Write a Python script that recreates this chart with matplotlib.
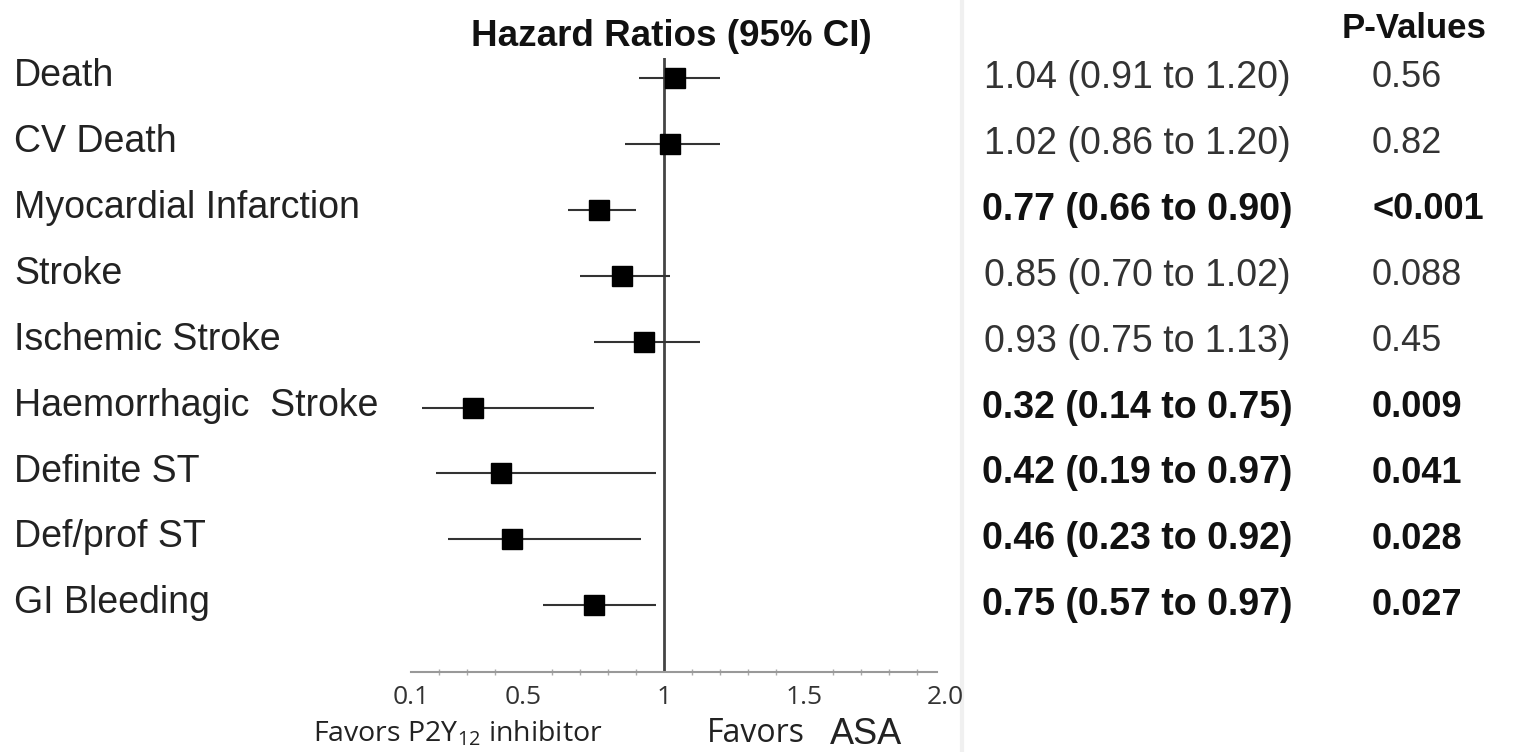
import numpy as np
import matplotlib
matplotlib.use("Agg")
import matplotlib.pyplot as plt
from matplotlib.transforms import blended_transform_factory

plt.rcParams['font.family'] = ['Liberation Sans', 'DejaVu Sans']
plt.rcParams['mathtext.fontset'] = 'custom'
plt.rcParams['mathtext.rm'] = 'Open Sans'
plt.rcParams['mathtext.default'] = 'rm'

# data
outcomes = ["Death", "CV Death", "Myocardial Infarction", "Stroke", "Ischemic Stroke",
            "Haemorrhagic  Stroke", "Definite ST", "Def/prof ST", "GI Bleeding"]
hr = [1.04, 1.02, 0.77, 0.85, 0.93, 0.32, 0.42, 0.46, 0.75]
lo = [0.91, 0.86, 0.66, 0.70, 0.75, 0.14, 0.19, 0.23, 0.57]
hi = [1.20, 1.20, 0.90, 1.02, 1.13, 0.75, 0.97, 0.92, 0.97]
pvals = ["0.56", "0.82", "<0.001", "0.088", "0.45", "0.009", "0.041", "0.028", "0.027"]
significant = [False, False, True, False, False, True, True, True, True]
tick_vals = [0.1, 0.5, 1, 1.5, 2.0]
tick_labels = ["0.1", "0.5", "1", "1.5", "2.0"]

W, H = 1521, 752
fig = plt.figure(figsize=(W / 100, H / 100), dpi=100)

# faint separator between plot and table (behind everything)
fig.add_artist(plt.Line2D([962 / W, 962 / W], [0, 1], transform=fig.transFigure,
                          color="#f0f0f0", lw=3, zorder=-1))

# forest plot axes (pixel layout)
ax = fig.add_axes([411 / W, 1 - 672 / H, 534 / W, 614 / H])
ax.patch.set_alpha(0)
y = np.arange(len(outcomes))

ax.axvline(1, color="#444444", lw=2, zorder=1)
ax.hlines(y, lo, hi, color="#333333", lw=1.5, zorder=2)
ax.plot(hr, y, "s", color="black", ms=14.5, zorder=3)

ax.set_xlim(0.1, 2.0)
ax.set_ylim(len(outcomes) - 1 + 1.01, -0.30)
for s in ["top", "left", "right"]:
    ax.spines[s].set_visible(False)
ax.spines["bottom"].set_color("#999999")
ax.spines["bottom"].set_linewidth(1.5)
ax.spines["bottom"].set_bounds(0.1, 1.97)
ax.set_yticks([])
ax.set_xticks(tick_vals)
ax.set_xticklabels(tick_labels, fontfamily="Open Sans", fontsize=19, color="#333333")
ax.set_xticks(np.arange(0.1, 1.95, 0.1), minor=True)
ax.tick_params(axis="x", which="major", length=0, pad=9)
ax.tick_params(axis="x", which="minor", length=5, width=1, color="#aaaaaa", direction="inout")

# texts
tr = blended_transform_factory(fig.transFigure, ax.transData)
for i, name in enumerate(outcomes):
    ax.text(14 / W, i - 0.03, name, transform=tr, ha="left", va="center",
            fontsize=27, color="#222222")
    w = "bold" if significant[i] else "normal"
    col = "#111111" if significant[i] else "#333333"
    ci = f"{hr[i]:.2f} ({lo[i]:.2f} to {hi[i]:.2f})"
    ax.text(1137 / W, i, ci, transform=tr, ha="center", va="center",
            fontsize=27, fontweight=w, color=col)
    ax.text(1372 / W, i, pvals[i], transform=tr, ha="left", va="center",
            fontsize=26, fontweight=w, color=col)

fig.text(671 / W, 1 - 36 / H, "Hazard Ratios (95% CI)", ha="center", va="center",
         fontsize=26.5, fontweight="bold", color="#111111")
fig.text(1414 / W, 1 - 29 / H, "P-Values", ha="center", va="center",
         fontsize=25, fontweight="bold", color="#111111")

fig.text(313 / W, 1 - 734 / H, r"Favors P2Y$_{12}$ inhibitor", ha="left", va="center",
         fontfamily="Open Sans", fontsize=20.5, color="#222222")
fig.text(707 / W, 1 - 734 / H, "Favors", ha="left", va="center",
         fontfamily="Open Sans", fontsize=23, color="#222222")
fig.text(830 / W, 1 - 735 / H, "ASA", ha="left", va="center",
         fontsize=26, color="#222222")

fig.savefig("out.png", dpi=100, facecolor="white")
